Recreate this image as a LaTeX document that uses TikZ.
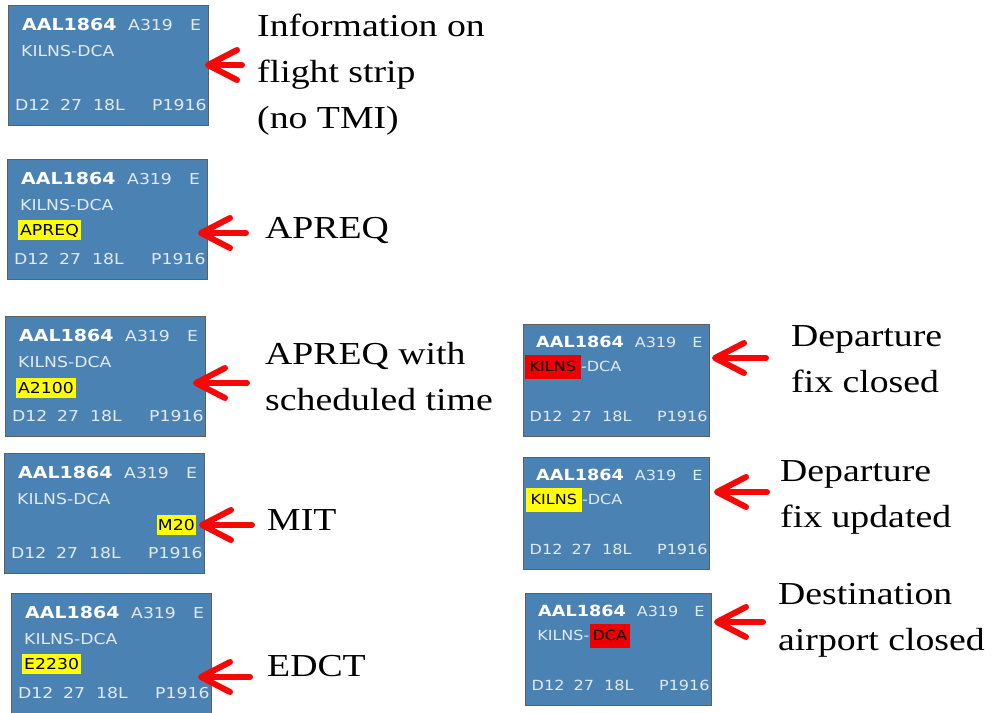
\documentclass[tikz,border=0pt]{standalone}
\usepackage{fontspec}
\usepackage{tikz}
\usetikzlibrary{arrows.meta,positioning}
\usepackage{xcolor}
\newfontfamily\labelfont[FakeStretch=1.18]{Liberation Serif}
\newfontfamily\stripfont[FakeStretch=1.15]{DejaVu Sans}
\definecolor{stripblue}{RGB}{75,130,180}
\definecolor{stripedge}{RGB}{95,95,95}
\definecolor{striptext}{RGB}{226,234,243}
\definecolor{arrowred}{RGB}{245,8,8}
\definecolor{tmiyellow}{RGB}{255,255,0}
\definecolor{tmired}{RGB}{238,0,0}

\tikzset{
  stripbox/.style={draw=stripedge, fill=stripblue, line width=1pt, minimum width=200pt, minimum height=120pt, inner sep=0pt, anchor=north west},
  stripword/.style={font=\stripfont\fontsize{15}{18}\selectfont, text=striptext, inner sep=0pt, anchor=base west},
  callsign/.style={stripword, font=\stripfont\bfseries\fontsize{16.5}{18}\selectfont, text=white},
  tmimark/.style={stripword, text=black, fill=tmiyellow, inner xsep=2pt, inner ysep=3.5pt, text height=12pt, text depth=1pt},
  fixmark/.style={stripword, text=black, fill=tmired, inner xsep=5pt, inner ysep=5pt, text height=13pt, text depth=3pt},
  tmilabel/.style={font=\labelfont\fontsize{32}{46}\selectfont, align=left, inner sep=0pt, anchor=base west},
  tmiarrow/.style={draw=arrowred, line width=6pt, line cap=round, -{Straight Barb[length=29pt,width=30pt,round]}}
}

\begin{document}
\begin{tikzpicture}[x=1pt,y=-1pt]
  \useasboundingbox (0,0) rectangle (993,712);

  \foreach \sx/\sy/\sc [count=\i] in {8/5/1, 7/159/1, 5/316/1, 4/453/1, 11/593/1, 523/324/0.93, 523/457/0.93, 525/593/0.93}{
    \begin{scope}[shift={(\sx,\sy)}, scale=\sc, transform shape]
      \node[stripbox] (strip\i) at (0,0) {};
      \node[callsign] at (14,25) {AAL1864};
      \node[stripword] at (120,25) {A319};
      \node[stripword] at (182,25) {E};
      \ifnum\i<6 \node[stripword] at (13,51) {KILNS-DCA}; \fi
      \node[stripword] at (7,105) {D12};
      \node[stripword] at (52,105) {27};
      \node[stripword] at (85,105) {18L};
      \node[stripword] at (144,105) {P1916};
    \end{scope}
  }

  \begin{scope}[shift={(7,159)}]
    \node[tmimark] (tmi2) at (11,76) {APREQ};
  \end{scope}
  \begin{scope}[shift={(5,316)}]
    \node[tmimark] (tmi3) at (11,77) {A2100};
  \end{scope}
  \begin{scope}[shift={(4,453)}]
    \node[tmimark, anchor=base east, inner xsep=1pt] (tmi4) at (192,77) {M20};
  \end{scope}
  \begin{scope}[shift={(11,593)}]
    \node[tmimark] (tmi5) at (11,76) {E2230};
  \end{scope}
  \begin{scope}[shift={(523,324)}, scale=0.93, transform shape]
    \node[fixmark] (tmi6) at (2,51) {KILNS};
    \node[stripword] at (tmi6.base east) {-DCA};
  \end{scope}
  \begin{scope}[shift={(523,457)}, scale=0.93, transform shape]
    \node[fixmark, fill=tmiyellow] (tmi7) at (3,51) {KILNS};
    \node[stripword] at (tmi7.base east) {-DCA};
  \end{scope}
  \begin{scope}[shift={(525,593)}, scale=0.93, transform shape]
    \node[stripword] (route8) at (13,51) {KILNS-};
    \node[fixmark, inner xsep=3pt] (tmi8) at (route8.base east) {DCA};
  \end{scope}

  \node[tmilabel] (lab1) at (257,128) {Information on\\flight strip\\(no TMI)};
  \node[tmilabel] (lab2) at (265,238) {APREQ};
  \node[tmilabel] (lab3) at (265,410) {APREQ with\\scheduled time};
  \node[tmilabel] (lab4) at (267,530) {MIT};
  \node[tmilabel] (lab5) at (267,676) {EDCT};
  \node[tmilabel] (lab6) at (791,392) {Departure\\fix closed};
  \node[tmilabel] (lab7) at (780,527) {Departure\\fix updated};
  \node[tmilabel] (lab8) at (778,650) {Destination\\airport closed};

  \foreach \i/\x/\y/\l in {1/205/65/37, 2/198/233/48, 3/193/383/54, 4/199/525/53, 5/198/677/52, 6/712/358/54, 7/714/492/53, 8/714/622/49}{
    \coordinate (tip\i) at (\x,\y);
    \coordinate (tail\i) at (\x+\l,\y);
    \draw[tmiarrow] (tail\i) -- (tip\i);
  }
\end{tikzpicture}
\end{document}
